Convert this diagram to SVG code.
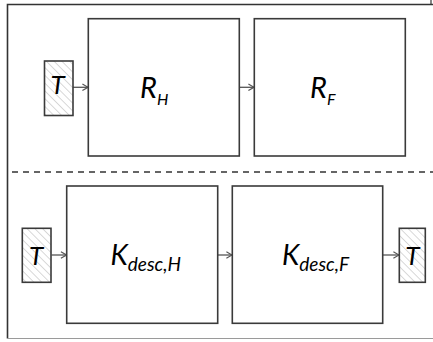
<svg xmlns="http://www.w3.org/2000/svg" width="433" height="342" viewBox="0 0 433 342">
<defs>
<pattern id="hatch" patternUnits="userSpaceOnUse" width="5.5" height="5.5" patternTransform="rotate(-45)">
<rect width="5.5" height="5.5" fill="#ffffff"/>
<line x1="0" y1="0" x2="0" y2="5.5" stroke="#cfcfcf" stroke-width="1.6"/>
</pattern>
<marker id="chev" viewBox="0 0 10 10" refX="9" refY="5" markerWidth="8" markerHeight="9" markerUnits="userSpaceOnUse" orient="auto">
<path d="M2,1 L9,5 L2,9" fill="none" stroke="#555" stroke-width="1.5"/>
</marker>
</defs>
<style>
.box{fill:#ffffff;stroke:#3a3a3a;stroke-width:1.6}
.tok{fill:url(#hatch);stroke:#3a3a3a;stroke-width:1.6}
.lbl{font-family:Lato,"Open Sans",sans-serif;font-style:italic;fill:#000}
.conn{stroke:#555;stroke-width:1.3;fill:none;marker-end:url(#chev)}
</style>
<rect width="433" height="342" fill="#ffffff"/>
<g id="frame">
<path d="M440,4.5 H7.5 V338.5" fill="none" stroke="#333" stroke-width="1.6"/>
<line x1="7.5" y1="338.5" x2="433" y2="338.5" stroke="#9a9a9a" stroke-width="1.2"/>
<line x1="431" y1="0" x2="431" y2="4" stroke="#333" stroke-width="1.2"/>
<line x1="12" y1="172" x2="433" y2="172" stroke="#333" stroke-width="1.4" stroke-dasharray="6,5"/>
</g>
<g id="connectors">
<line class="conn" x1="73" y1="87.3" x2="88" y2="87.3"/>
<line class="conn" x1="239.5" y1="87.3" x2="254" y2="87.3"/>
<line class="conn" x1="51.5" y1="255" x2="66.5" y2="255"/>
<line class="conn" x1="218" y1="255" x2="232" y2="255"/>
<line class="conn" x1="383" y1="255" x2="399" y2="255"/>
</g>
<g id="t_top">
<rect class="tok" x="44.5" y="61" width="28.5" height="54.5"/>
<text class="lbl" x="57.5" y="93.5" font-size="26" text-anchor="middle">T</text>
</g>
<g id="r_h">
<rect class="box" x="88.3" y="18.7" width="151" height="137.3"/>
<text class="lbl" x="140" y="98.3" font-size="29">R<tspan font-size="16" dy="6.7">H</tspan></text>
</g>
<g id="r_f">
<rect class="box" x="254.3" y="18.7" width="151" height="137.3"/>
<text class="lbl" x="310" y="98.3" font-size="29">R<tspan font-size="16" dy="6.7">F</tspan></text>
</g>
<g id="t_left">
<rect class="tok" x="22.3" y="228.3" width="28.7" height="54"/>
<text class="lbl" x="36" y="265" font-size="26" text-anchor="middle">T</text>
</g>
<g id="k_h">
<rect class="box" x="66.7" y="186" width="151" height="137.3"/>
<text class="lbl" x="110.5" y="265" font-size="28">K<tspan font-size="19" dy="6">desc,H</tspan></text>
</g>
<g id="k_f">
<rect class="box" x="232.3" y="186" width="150.4" height="137.3"/>
<text class="lbl" x="282" y="265" font-size="28">K<tspan font-size="19" dy="6">desc,F</tspan></text>
</g>
<g id="t_right">
<rect class="tok" x="399.3" y="228.3" width="26" height="54"/>
<text class="lbl" x="412.3" y="265" font-size="26" text-anchor="middle">T</text>
</g>
</svg>
